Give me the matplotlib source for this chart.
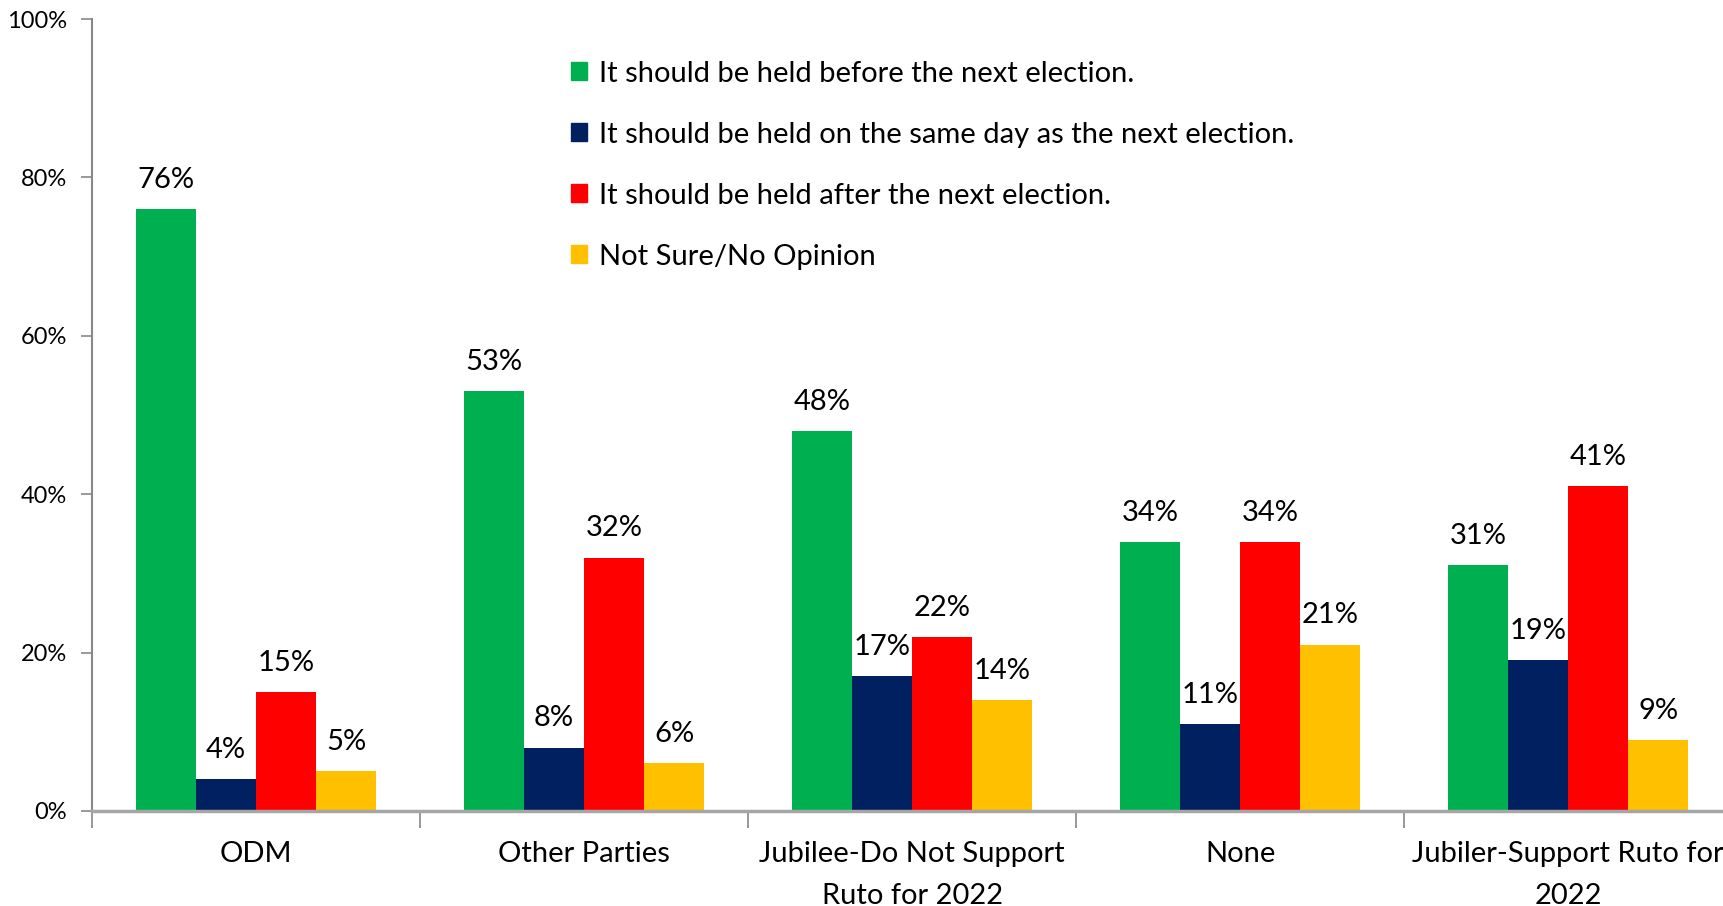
import matplotlib.pyplot as plt
import numpy as np
from matplotlib.patches import Patch

plt.rcParams["font.family"] = ["Lato", "DejaVu Sans"]

categories = [
    "ODM",
    "Other Parties",
    "Jubilee-Do Not Support\nRuto for 2022",
    "None",
    "Jubiler-Support Ruto for\n2022",
]
series_names = [
    "It should be held before the next election.",
    "It should be held on the same day as the next election.",
    "It should be held after the next election.",
    "Not Sure/No Opinion",
]
before = [76, 53, 48, 34, 31]
same_day = [4, 8, 17, 11, 19]
after = [15, 32, 22, 34, 41]
not_sure = [5, 6, 14, 21, 9]
colors = ["#00B050", "#002060", "#FF0000", "#FFC000"]

fig = plt.figure(figsize=(17.24, 9.06), dpi=100)
# axes runs a bit past the right edge, like the original clipped chart
ax = fig.add_axes([0.0534, 0.1049, 0.9513, 0.8741])

bar_w = 0.183
x = np.arange(len(categories)) + 0.5
for i, (vals, col) in enumerate(zip([before, same_day, after, not_sure], colors)):
    pos = x + (i - 1.5) * bar_w
    ax.bar(pos, vals, width=bar_w, color=col, zorder=2)
    for px, v in zip(pos, vals):
        ax.annotate(f"{v}%", (px, v), xytext=(0, 21), textcoords="offset points",
                    ha="center", va="center", fontsize=21)

ax.set_xlim(0, len(categories))
ax.set_ylim(0, 100)
ax.set_yticks(np.arange(0, 101, 20))
ax.set_yticklabels([f"{t}%" for t in range(0, 101, 20)], fontsize=17)
ax.set_xticks(np.arange(len(categories) + 1))
ax.set_xticklabels([])
ax.set_xticks(x, minor=True)
ax.set_xticklabels(categories, minor=True, fontsize=21, linespacing=1.75)
ax.tick_params(axis="x", which="minor", length=0, pad=21.5)
ax.tick_params(axis="x", which="major", length=12, width=1.2, color="#888888")
ax.tick_params(axis="y", length=8, width=1.2, color="#888888", pad=10)

for s in ["top", "right"]:
    ax.spines[s].set_visible(False)
ax.spines["left"].set_color("#888888")
ax.spines["left"].set_linewidth(1.5)
ax.spines["bottom"].set_color("#A6A6A6")
ax.spines["bottom"].set_linewidth(2.5)

handles = [Patch(color=c) for c in colors]
fig.legend(handles, series_names, loc="upper left", bbox_to_anchor=(0.3245, 0.946),
           frameon=False, fontsize=21, handlelength=0.55, handleheight=0.55,
           handletextpad=0.4, labelspacing=1.2, borderaxespad=0)

fig.savefig("out.png", dpi=100)
